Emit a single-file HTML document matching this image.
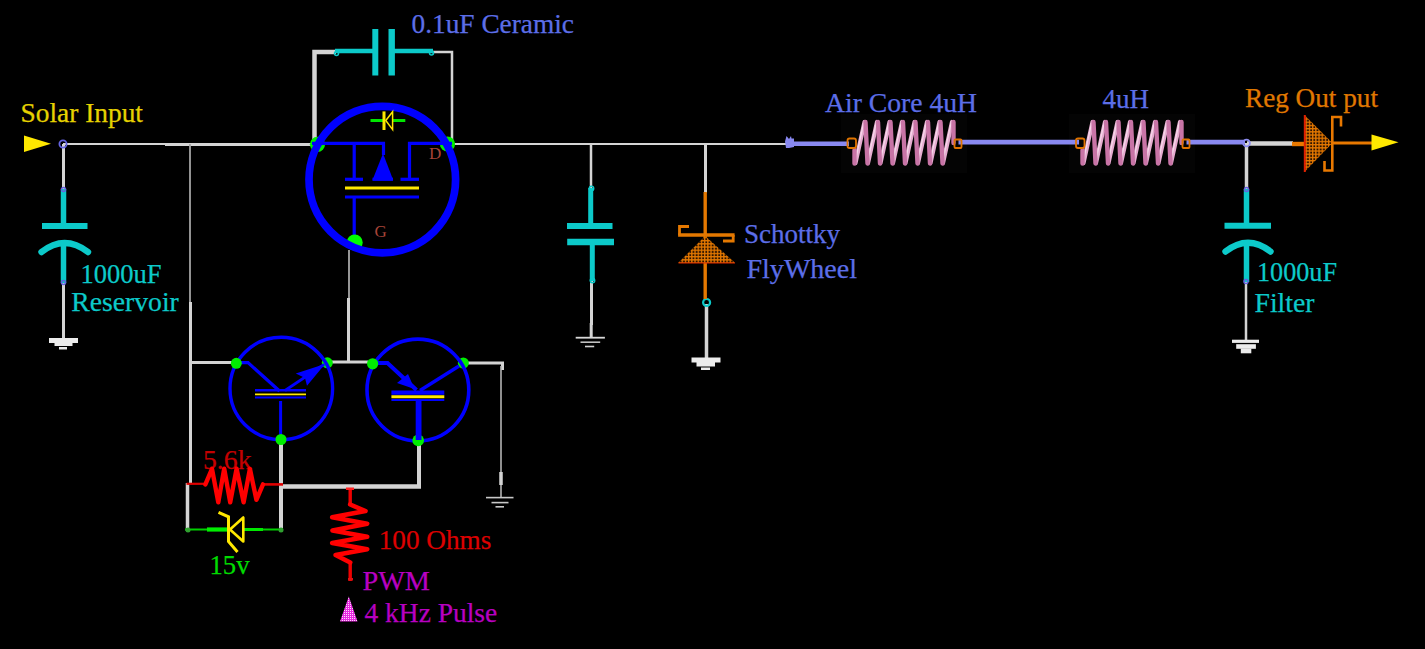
<!DOCTYPE html>
<html>
<head>
<meta charset="utf-8">
<title>Solar Buck Regulator Schematic</title>
<style>
html,body{margin:0;padding:0;background:#000;}
body{width:1425px;height:649px;overflow:hidden;font-family:"Liberation Serif",serif;}
svg{display:block;}
text{font-family:"Liberation Serif",serif;font-size:27px;}
</style>
</head>
<body>
<svg width="1425" height="649" viewBox="0 0 1425 649">
<defs>
  <pattern id="hatch" width="3.2" height="3.2" patternUnits="userSpaceOnUse">
    <rect width="3.2" height="3.2" fill="#2a1200"/>
    <rect width="1.3" height="3.2" fill="#e47800"/>
    <rect width="3.2" height="1.3" fill="#e47800"/>
  </pattern>
  <pattern id="pinkd" width="2" height="2" patternUnits="userSpaceOnUse">
    <rect width="2" height="2" fill="#e828e0"/>
    <rect width="1" height="1" fill="#ffd8ff"/>
  </pattern>
</defs>
<rect width="1425" height="649" fill="#000"/>

<!-- ================= WIRES (white/grey) ================= -->
<g id="wires" fill="none" stroke="#d4d4d4" stroke-linecap="butt">
  <!-- main rail left -->
  <path d="M63 144H166" stroke-width="2"/>
  <path d="M165 144.5H314" stroke-width="3"/>
  <!-- input cap wire -->
  <path d="M63.5 144V190" stroke-width="3"/>
  <path d="M63.5 282V339" stroke-width="3"/>
  <!-- left drop rail -->
  <path d="M190 144V302" stroke-width="1.800" stroke="#a4a4a4"/>
  <path d="M190.5 302V484" stroke-width="3"/>
  <path d="M187.5 483V531" stroke-width="3.5"/>
  <!-- top cap loop -->
  <path d="M314.5 144V52H336" stroke-width="4.5"/>
  <path d="M432 52H452V141" stroke-width="2.5"/>
  <!-- main rail middle -->
  <path d="M452 144H787" stroke-width="2"/>
  <!-- gate wire -->
  <path d="M349 250V300" stroke-width="1.800" stroke="#a8a8a8"/>
  <path d="M348.5 298V362" stroke-width="3"/>
  <!-- transistor rail -->
  <path d="M190 362.5H236" stroke-width="3"/>
  <path d="M331 362H368" stroke-width="3"/>
  <path d="M466 363H502.5V370" stroke-width="3"/>
  <path d="M501 366V498" stroke-width="1.6" stroke="#b4b4b4"/>
  <path d="M501 472V485" stroke-width="3.5"/>
  <!-- base wires -->
  <path d="M281 442V531" stroke-width="4"/>
  <path d="M281 486.5H421" stroke-width="4.5"/>
  <path d="M419 442V488" stroke-width="4"/>
  <!-- mid cap -->
  <path d="M591 144V189" stroke-width="2.5"/>
  <path d="M591.5 280V325" stroke-width="3"/>
  <path d="M591.200 323V338" stroke-width="3"/>
  <!-- schottky -->
  <path d="M705.5 144V193" stroke-width="3"/>
  <path d="M706.5 304V359" stroke-width="3.5"/>
  <!-- output -->
  <path d="M1247 143.5H1293" stroke-width="4.5"/>
  <path d="M1246.5 143V190" stroke-width="3.5"/>
  <path d="M1246 281V341" stroke-width="2.5"/>
</g>

<!-- ================= GROUNDS ================= -->
<g id="grounds" fill="#ececec">
  <!-- input cap ground -->
  <rect x="49" y="338" width="29" height="5"/>
  <rect x="54.500" y="342.500" width="18" height="3.500"/>
  <rect x="59" y="347" width="8" height="2.500"/>
  <!-- mid cap ground (thin) -->
  <rect x="575.700" y="336.800" width="29.200" height="1.800" fill="#d8d8d8"/>
  <rect x="580.500" y="341.400" width="19.700" height="1.600" fill="#c0c0c0"/>
  <rect x="585" y="345.700" width="9.200" height="1.600" fill="#d0d0d0"/>
  <!-- schottky ground -->
  <rect x="691.500" y="357.500" width="29" height="5"/>
  <rect x="696.500" y="362" width="18.500" height="4.500"/>
  <rect x="701" y="367.500" width="9" height="2.500"/>
  <!-- transistor ground (thin) -->
  <rect x="486" y="496.800" width="27.500" height="1.600" fill="#c8c8c8"/>
  <rect x="491.500" y="501.800" width="17" height="1.600" fill="#c8c8c8"/>
  <rect x="495.500" y="506" width="8.500" height="1.600" fill="#c8c8c8"/>
  <!-- output cap ground -->
  <rect x="1232" y="339.700" width="27" height="3.200"/>
  <rect x="1236.200" y="344.200" width="19.700" height="4.600"/>
  <rect x="1240.800" y="348.500" width="10.500" height="4.800"/>
</g>

<!-- ================= CYAN CAPACITORS ================= -->
<g id="caps" fill="none" stroke="#0ccaca">
  <!-- input cap -->
  <path d="M63.500 189V226" stroke-width="5.500"/>
  <path d="M42 226H87.500" stroke-width="6"/>
  <path d="M41.500 252Q64.500 234 88 252" stroke-width="6.400" stroke-linecap="round"/>
  <path d="M63.500 243V283" stroke-width="5.500"/>
  <!-- top cap -->
  <path d="M335 51H373" stroke-width="4.500"/>
  <path d="M375.300 29V75.500" stroke-width="6"/>
  <path d="M391.700 29V75.500" stroke-width="6.400"/>
  <path d="M394 51H433" stroke-width="4.500"/>
  <!-- mid cap -->
  <path d="M590.700 188V226" stroke-width="5"/>
  <path d="M567 226H612.500" stroke-width="6"/>
  <path d="M567.200 242H614" stroke-width="6.400"/>
  <path d="M592.300 242V281" stroke-width="5"/>
  <!-- output cap -->
  <path d="M1246.500 189V226" stroke-width="5.500"/>
  <path d="M1224.500 225.700H1271" stroke-width="6"/>
  <path d="M1225.500 251.500Q1248 234 1270.500 251.500" stroke-width="6.400" stroke-linecap="round"/>
  <path d="M1246.500 242V282" stroke-width="5.500"/>
</g>

<!-- small node markers -->
<g id="nodes" fill="none" stroke-width="1.500">
  <circle cx="63" cy="144" r="3.600" stroke="#6464e0" stroke-width="1.800"/>
  <circle cx="63.500" cy="189.500" r="2" stroke="#6464e0"/>
  <circle cx="63.500" cy="282.500" r="2" stroke="#6464e0"/>
  <circle cx="336.500" cy="53.500" r="2" stroke="#0ccaca"/>
  <circle cx="431.500" cy="53" r="2" stroke="#0ccaca"/>
  <circle cx="591.500" cy="188.500" r="2.200" stroke="#0ccaca"/>
  <circle cx="592.500" cy="280.500" r="2.200" stroke="#0ccaca"/>
  <circle cx="706.600" cy="302.500" r="3.500" stroke="#0ccaca" stroke-width="2.200"/>
  <circle cx="1246.500" cy="143" r="3.400" stroke="#8c8cf0" stroke-width="1.800"/>
  <circle cx="1246.500" cy="189.500" r="2" stroke="#6464e0"/>
  <circle cx="1246" cy="281.500" r="2" stroke="#6464e0"/>
</g>

<!-- ================= MOSFET ================= -->
<g id="mosfet">
  <!-- green node dots (partly hidden by ring) -->
  <circle cx="317.500" cy="144.300" r="7.600" fill="#00ee00"/>
  <circle cx="447.500" cy="144" r="7.600" fill="#00ee00"/>
  <g fill="none" stroke="#0000ff" stroke-width="3.200">
    <path d="M312 143.300H383.500V155"/>
    <path d="M409.500 178.500V143.300H452"/>
    <path d="M354.200 143V179"/>
    <path d="M345 179.300H363"/>
    <path d="M372.500 179.300H393"/>
    <path d="M400.500 179.300H419"/>
    <path d="M345 197H419"/>
    <path d="M354.200 197V238"/>
  </g>
  <circle cx="354.700" cy="242.500" r="8" fill="#00ff00"/>
  <circle cx="382.300" cy="179.600" r="73.300" fill="none" stroke="#0000ff" stroke-width="7.700"/>
  <path d="M383 153.500L393.200 180H372.500z" fill="#0000ff"/>
  <path d="M345 188H419" stroke="#ffe800" stroke-width="3.200" fill="none"/>
  <!-- body diode -->
  <path d="M370.500 120.500H383M393 120.500H405.300" stroke="#00e600" stroke-width="2.800" fill="none"/>
  <path d="M384 111.400V130" stroke="#ffe800" stroke-width="3" fill="none"/>
  <path d="M385.800 120.500L392.600 111.800V129.600z" stroke="#ffe800" stroke-width="1.500" fill="#000"/>
  <text x="429" y="159" style="font-size:17px" fill="#a84438">D</text>
  <text x="374.500" y="237" style="font-size:17px" fill="#a84438">G</text>
</g>

<!-- ================= BJT LEFT ================= -->
<g id="q1">
  <circle cx="327.300" cy="362.800" r="5.500" fill="#00ee00"/>
  <circle cx="281.300" cy="388.500" r="51.300" fill="none" stroke="#0000ff" stroke-width="3.400"/>
  <g fill="none" stroke="#0000ff">
    <path d="M240 362.600H248L279.500 391" stroke-width="3.200"/>
    <path d="M285 390.500L324 364.500" stroke-width="2.800"/>
    <path d="M255 390.300H306" stroke-width="2.600"/>
    <path d="M255 397.600H306" stroke-width="2"/>
    <path d="M280.600 401V436" stroke-width="3"/>
  </g>
  <path d="M295.800 373.500L325 364L307 385.800L305 378z" fill="#0000ff"/>
  <path d="M255 394.300H306" stroke="#ffe800" stroke-width="1.800" fill="none"/>
  <circle cx="236.300" cy="363.300" r="5.500" fill="#00ee00"/>
  <circle cx="281" cy="439.500" r="5.500" fill="#00ee00"/>
</g>

<!-- ================= BJT RIGHT ================= -->
<g id="q2">
  <circle cx="463.300" cy="363" r="5.500" fill="#00ee00"/>
  <circle cx="417.900" cy="390" r="50.900" fill="none" stroke="#0000ff" stroke-width="3.600"/>
  <circle cx="418.200" cy="440.400" r="5.800" fill="#00ee00"/>
  <g fill="none" stroke="#0000ff">
    <path d="M376 363H387.500L416.500 390" stroke-width="4"/>
    <path d="M420 390.500L459 366" stroke-width="3.400"/>
    <path d="M391.400 392.700H444.300" stroke-width="4.200"/>
    <path d="M391.400 400H444.300" stroke-width="1.800"/>
    <path d="M418.600 399V440" stroke-width="5.800"/>
  </g>
  <path d="M397 383L408 374L414.500 389z" fill="#0000ff"/>
  <path d="M391.400 396.800H444.300" stroke="#ffe800" stroke-width="3" fill="none"/>
  <circle cx="372.600" cy="363.800" r="5.600" fill="#00ee00"/>
</g>

<!-- ================= 5.6k resistor + zener ================= -->
<g id="r1">
  <text x="203" y="468.500" fill="#c40000" textLength="48.500" lengthAdjust="spacingAndGlyphs" stroke="#c40000" stroke-width="0.250">5.6k</text>
  <path d="M186.500 483.800H205" fill="none" stroke="#e00000" stroke-width="2.200"/>
  <path d="M263 484.400H283" fill="none" stroke="#e00000" stroke-width="2.600"/>
  <path d="M205.400 484.400L212 468.800L218.300 502.300L224.200 468.600L230.200 502.300L236.600 468.600L243.600 502.300L249.900 468.800L256.400 499.800L263 484.400" fill="none" stroke="#ff0000" stroke-width="4.400" stroke-linejoin="round" stroke-linecap="round"/>
  <path d="M185 529.500H283" stroke="#00d000" stroke-width="1.800" fill="none"/>
  <path d="M243.500 529.500H263" stroke="#00e800" stroke-width="3" fill="none"/>
  <path d="M207 529.500H229" stroke="#00ee00" stroke-width="4.200" fill="none"/>
  <circle cx="188" cy="530" r="2.500" fill="#30a030"/>
  <circle cx="281" cy="530" r="2.500" fill="#30a030"/>
  <path d="M218.500 512.300L228.500 516.800V541.500L237.500 552" fill="none" stroke="#ffe800" stroke-width="3"/>
  <path d="M230 529.500L243.300 517.500V541.500z" fill="#000" stroke="#ffe800" stroke-width="2.600" stroke-linejoin="round"/>
  <text x="209.500" y="573.500" fill="#00dc00" textLength="40" lengthAdjust="spacingAndGlyphs" stroke="#00dc00" stroke-width="0.250">15v</text>
</g>

<!-- ================= 100 ohm resistor ================= -->
<g id="r2">
  <path d="M350.200 488V505M350.200 562V581" fill="none" stroke="#f00000" stroke-width="3.400"/>
  <path d="M350.200 504.500L365.500 511L332.200 517.300L367.200 523.700L332.500 530.500L367.200 536.800L332.200 543L367.200 549.200L335.600 555L350.200 562.500" fill="none" stroke="#ff0000" stroke-width="4.600" stroke-linejoin="round" stroke-linecap="round"/>
  <rect x="346" y="487.500" width="8" height="2.500" fill="#ff2020"/>
  <rect x="348" y="578" width="5" height="2.500" fill="#e01010"/>
  <text x="378.700" y="548.500" fill="#dc0000" textLength="112.700" lengthAdjust="spacingAndGlyphs" stroke="#dc0000" stroke-width="0.250">100 Ohms</text>
  <text x="362.500" y="590" fill="#b800c0" textLength="67.500" lengthAdjust="spacingAndGlyphs" stroke="#b800c0" stroke-width="0.250">PWM</text>
  <text x="364.500" y="621.500" fill="#b800c0" textLength="132.700" lengthAdjust="spacingAndGlyphs" stroke="#b800c0" stroke-width="0.250">4 kHz Pulse</text>
  <path d="M348.800 596.500L357.500 621.500H340z" fill="url(#pinkd)"/>
</g>

<!-- ================= Schottky flywheel ================= -->
<g id="schottky">
  <path d="M705.200 192V299" stroke="#e47800" stroke-width="3.400" fill="none"/>
  <path d="M705.200 236L735.200 263H678.100z" fill="url(#hatch)"/>
  <path d="M678.500 263H735" stroke="#e02800" stroke-width="1.200" fill="none"/>
  <path d="M678.100 235H734.600" stroke="#e47800" stroke-width="3.600" fill="none"/>
  <path d="M689 226.500H679.500V235M733.200 235V241H723" fill="none" stroke="#e47800" stroke-width="2.800"/>
  <text x="744" y="242.500" fill="#5c6ee8" textLength="96" lengthAdjust="spacingAndGlyphs" stroke="#5c6ee8" stroke-width="0.250">Schottky</text>
  <text x="746.500" y="278" fill="#5c6ee8" textLength="110.500" lengthAdjust="spacingAndGlyphs" stroke="#5c6ee8" stroke-width="0.250">FlyWheel</text>
</g>

<!-- ================= Lavender rail + inductors ================= -->
<g id="inductors">
  <rect x="841" y="114" width="126" height="59" fill="#040404"/>
  <rect x="1069" y="114" width="126" height="59" fill="#040404"/>
  <path d="M787 143.800H849" stroke="#8888f0" stroke-width="4.500" fill="none"/>
  <path d="M785 141.500L786.500 136L789 139L791 136L791.500 138.500H794V141.500V147L789 148H786z" fill="#8888f0"/>
  <path d="M958.500 142.200H1079" stroke="#8888f0" stroke-width="4.800" fill="none"/>
  <path d="M1186.500 142.200H1245" stroke="#8888f0" stroke-width="4.800" fill="none"/>
  <g id="coil1" fill="none" stroke-linecap="round">
    <path d="M855.500 163L864.500 122M868 163L877 122M880.500 163L889.500 122M893 163L902 122M905.500 163L914.500 122M918 163L927 122M930.500 163L939.500 122M943 163L952 122" stroke="#e6acd0" stroke-width="4.200"/>
    <path d="M855.500 163L864.500 122M868 163L877 122M880.500 163L889.500 122M893 163L902 122M905.500 163L914.500 122M918 163L927 122M930.500 163L939.500 122M943 163L952 122" stroke="#f6d8ea" stroke-width="1.300" transform="translate(-0.700 0)"/>
    <path d="M854.500 150V163.500M865.500 122L867.500 163.500M878 122L880 163.500M890.500 122L892.500 163.500M903 122L905 163.500M915.500 122L917.500 163.500M928 122L930 163.500M940.500 122L942.500 163.500M953.500 122V143" stroke="#c874a6" stroke-width="4.400"/>
  </g>
  <g id="coil2" fill="none" stroke-linecap="round" transform="translate(228 0)">
    <path d="M855.500 163L864.500 122M868 163L877 122M880.500 163L889.500 122M893 163L902 122M905.500 163L914.500 122M918 163L927 122M930.500 163L939.500 122M943 163L952 122" stroke="#e6acd0" stroke-width="4.200"/>
    <path d="M855.500 163L864.500 122M868 163L877 122M880.500 163L889.500 122M893 163L902 122M905.500 163L914.500 122M918 163L927 122M930.500 163L939.500 122M943 163L952 122" stroke="#f6d8ea" stroke-width="1.300" transform="translate(-0.700 0)"/>
    <path d="M854.500 150V163.500M865.500 122L867.500 163.500M878 122L880 163.500M890.500 122L892.500 163.500M903 122L905 163.500M915.500 122L917.500 163.500M928 122L930 163.500M940.500 122L942.500 163.500M953.500 122V143" stroke="#c874a6" stroke-width="4.400"/>
  </g>
  <g fill="none" stroke="#e07400" stroke-width="1.800">
    <rect x="847.500" y="138.500" width="8.500" height="9.500" rx="2"/>
    <rect x="954.500" y="139.500" width="7" height="8.500" rx="1"/>
    <rect x="1076" y="138.500" width="8.500" height="9.500" rx="2"/>
    <rect x="1182.500" y="139.500" width="7" height="8.500" rx="1"/>
  </g>
  <text x="825" y="111.500" fill="#5c6ee8" textLength="152" lengthAdjust="spacingAndGlyphs" stroke="#5c6ee8" stroke-width="0.250">Air Core 4uH</text>
  <text x="1102.500" y="107.500" fill="#5c6ee8" textLength="46.500" lengthAdjust="spacingAndGlyphs" stroke="#5c6ee8" stroke-width="0.250">4uH</text>
</g>

<!-- ================= Output diode ================= -->
<g id="outdiode">
  <path d="M1292 144H1306" stroke="#e87800" stroke-width="4.400" fill="none"/>
  <path d="M1332 143H1373" stroke="#e87800" stroke-width="3" fill="none"/>
  <path d="M1305 115.500L1332.500 143L1305 171.500z" fill="url(#hatch)"/>
  <path d="M1304.800 115V172" stroke="#e02000" stroke-width="2" fill="none"/>
  <path d="M1341 126.500V117H1332.300V170.500H1324.500V161" fill="none" stroke="#e87800" stroke-width="2.600"/>
  <path d="M1371.500 134.500L1398.500 142.300L1371.500 150.500z" fill="#ffe800"/>
  <text x="1245" y="107" fill="#e07800" textLength="133" lengthAdjust="spacingAndGlyphs" stroke="#e07800" stroke-width="0.250">Reg Out put</text>
</g>

<!-- ================= Input ================= -->
<g id="input">
  <path d="M24 135.500L51 143.800L24 152z" fill="#ffe800"/>
  <text x="20.500" y="122" fill="#e6d200" textLength="122.500" lengthAdjust="spacingAndGlyphs" stroke="#e6d200" stroke-width="0.250">Solar Input</text>
  <text x="80.500" y="282.500" fill="#0ccaca" textLength="81" lengthAdjust="spacingAndGlyphs" stroke="#0ccaca" stroke-width="0.250">1000uF</text>
  <text x="71.300" y="311" fill="#0ccaca" textLength="107.500" lengthAdjust="spacingAndGlyphs" stroke="#0ccaca" stroke-width="0.250">Reservoir</text>
  <text x="411.500" y="32.500" fill="#5c6ee8" textLength="162.500" lengthAdjust="spacingAndGlyphs" stroke="#5c6ee8" stroke-width="0.250">0.1uF Ceramic</text>
  <text x="1257" y="281" fill="#0ccaca" textLength="80" lengthAdjust="spacingAndGlyphs" stroke="#0ccaca" stroke-width="0.250">1000uF</text>
  <text x="1254.500" y="311.500" fill="#0ccaca" textLength="60" lengthAdjust="spacingAndGlyphs" stroke="#0ccaca" stroke-width="0.250">Filter</text>
</g>
</svg>
</body>
</html>
